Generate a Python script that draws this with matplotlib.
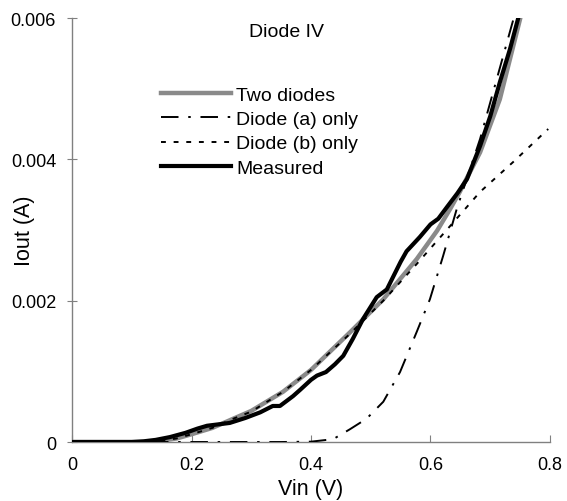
import matplotlib
matplotlib.use("Agg")
import matplotlib.pyplot as plt

plt.rcParams['font.family'] = ['Liberation Sans', 'DejaVu Sans']

# values
two_x = [0, 0.12, 0.15, 0.175, 0.2, 0.235, 0.27, 0.3, 0.353, 0.4, 0.465, 0.521,
         0.577, 0.611, 0.633, 0.649, 0.683, 0.716, 0.75, 0.76]
two_y = [0, 0, 0.00002, 0.00005, 0.00011, 0.0002, 0.00033, 0.00044, 0.00071, 0.00102,
         0.00155, 0.00202, 0.00259, 0.00299, 0.0033, 0.00354, 0.0041, 0.00485, 0.00599, 0.0064]

a_x = [0, 0.35, 0.40, 0.437, 0.465, 0.493, 0.521, 0.549, 0.577, 0.599, 0.621, 0.644,
       0.683, 0.711, 0.738, 0.75]
a_y = [0, 0, 0.000005, 0.00004, 0.00018, 0.00033, 0.00057, 0.00099, 0.00156, 0.00202,
       0.00263, 0.0033, 0.00429, 0.00514, 0.00596, 0.0064]

b_x = [0, 0.12, 0.15, 0.175, 0.2, 0.235, 0.27, 0.3, 0.353, 0.4, 0.465, 0.521, 0.577,
       0.628, 0.683, 0.738, 0.797]
b_y = [0, 0, 0.00002, 0.00005, 0.00011, 0.0002, 0.00033, 0.00043, 0.00071, 0.00102,
       0.00153, 0.002, 0.00252, 0.00301, 0.00354, 0.00396, 0.00443]

meas_x = [0, 0.1, 0.12, 0.14, 0.164, 0.19, 0.21, 0.226, 0.245, 0.264, 0.29, 0.315,
          0.336, 0.348, 0.37, 0.382, 0.40, 0.41, 0.425, 0.44, 0.454, 0.47, 0.487,
          0.51, 0.527, 0.537, 0.55, 0.56, 0.582, 0.60, 0.613, 0.628, 0.645, 0.661,
          0.683, 0.70, 0.716, 0.733, 0.75]
meas_y = [0, 0, 0.00001, 0.00003, 0.00007, 0.00013, 0.00019, 0.00023, 0.00025, 0.00027,
          0.00034, 0.00042, 0.00051, 0.00051, 0.00065, 0.00074, 0.00088, 0.00094,
          0.00099, 0.0011, 0.00122, 0.00146, 0.00174, 0.00205, 0.00216, 0.00233,
          0.00255, 0.0027, 0.0029, 0.00308, 0.00316, 0.00333, 0.00352, 0.00372,
          0.00419, 0.00461, 0.00509, 0.00556, 0.0061]

x_ticks = [0, 0.2, 0.4, 0.6, 0.8]
x_labels = ['0', '0.2', '0.4', '0.6', '0.8']
y_ticks = [0, 0.002, 0.004, 0.006]
y_labels = ['0', '0.002', '0.004', '0.006']

fig = plt.figure(figsize=(5.67, 5.02), dpi=100)
ax = fig.add_axes([0.127, 0.1175, 0.843, 0.8445])

ax.plot(two_x, two_y, color='#8a8a8a', lw=3.2, label='Two diodes', zorder=2)
ax.plot(meas_x, meas_y, color='black', lw=3.0, label='Measured', zorder=3)
ax.plot(a_x, a_y, color='black', lw=1.4, dashes=(9, 5, 1.3, 5), label='Diode (a) only', zorder=4)
ax.plot(b_x, b_y, color='black', lw=1.4, dashes=(2.5, 4), label='Diode (b) only', zorder=4)

ax.set_xlim(0, 0.8)
ax.set_ylim(0, 0.006)
ax.set_xticks(x_ticks)
ax.set_xticklabels(x_labels)
ax.set_yticks(y_ticks)
ax.set_yticklabels(y_labels)

for side in ['top', 'right']:
    ax.spines[side].set_visible(False)
for side in ['left', 'bottom']:
    ax.spines[side].set_color('#808080')
    ax.spines[side].set_linewidth(1.0)

ax.tick_params(axis='x', direction='in', length=5, color='#808080', labelsize=13, pad=10)
ax.tick_params(axis='y', direction='inout', length=7, color='#808080', labelsize=13, pad=8)

ax.set_xlabel('Vin (V)', fontsize=15.5)
ax.xaxis.set_label_coords(0.5, -0.085)
ax.set_ylabel('Iout (A)', fontsize=15.5)
ax.yaxis.set_label_coords(-0.078, 0.5)

fig.text(0.506, 0.936, 'Diode IV', ha='center', va='center', fontsize=14)

handles, labels = ax.get_legend_handles_labels()
order = [0, 2, 3, 1]
ax.legend([handles[i] for i in order], [labels[i] for i in order],
          loc='upper left', bbox_to_anchor=(0.187, 0.84), frameon=False,
          fontsize=14, handlelength=3.6, handletextpad=0.25,
          labelspacing=0.35, borderaxespad=0, borderpad=0)

plt.savefig('out.png', dpi=100)
